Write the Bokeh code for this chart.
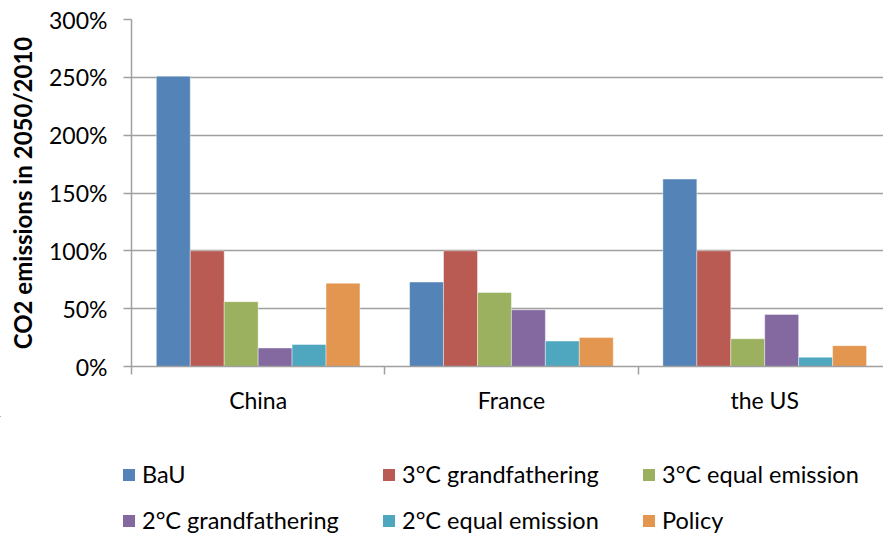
from bokeh.plotting import figure
from bokeh.layouts import column, row
from bokeh.models import Range1d, FixedTicker, PrintfTickFormatter, Legend, LegendItem, ColumnDataSource
from bokeh.embed import file_html
from bokeh.resources import INLINE

# ---- data (percent of 2010 emissions) ----
categories = ["China", "France", "the US"]
series_names = ["BaU", "3°C grandfathering", "3°C equal emission",
                "2°C grandfathering", "2°C equal emission", "Policy"]
bau = [251, 73, 162]
gf3 = [100, 100, 100]
eq3 = [56, 64, 24]
gf2 = [16, 49, 45]
eq2 = [19, 22, 8]
policy = [72, 25, 18]
colors = ["#5383B7", "#B95A53", "#9BB15F", "#8469A0", "#4EA7BF", "#E39650"]
y_ticks = [0, 50, 100, 150, 200, 250, 300]

series_values = [bau, gf3, eq3, gf2, eq2, policy]

FONT = "Lato"
FS = "23px"
GRID = "#a0a0a0"

p = figure(width=883, height=416, output_backend="svg", toolbar_location=None,
           x_range=Range1d(0, 2.969), y_range=Range1d(0, 300),
           min_border_left=131, min_border_right=0, min_border_top=19,
           min_border_bottom=49)
p.outline_line_color = None

bar_w = 0.134
sources = []
for j, (name, vals, col) in enumerate(zip(series_names, series_values, colors)):
    xs = [i + 0.5 + (j - 2.5) * bar_w for i in range(len(categories))]
    src = ColumnDataSource(dict(x=xs, top=vals))
    sources.append(src)
    p.vbar(x="x", top="top", bottom=0, width=bar_w, source=src,
           fill_color=col, line_color="white", line_alpha=0.5, line_width=0.8)

# grid
p.xgrid.visible = False
p.ygrid.ticker = FixedTicker(ticks=y_ticks)
p.ygrid.grid_line_color = GRID
p.ygrid.grid_line_width = 1.5

# y axis
ya = p.yaxis[0]
ya.ticker = FixedTicker(ticks=y_ticks, minor_ticks=[])
ya.formatter = PrintfTickFormatter(format="%d%%")
ya.axis_line_color = GRID
ya.axis_line_width = 1.5
ya.major_tick_line_color = GRID
ya.major_tick_line_width = 1.5
ya.major_tick_out = 8
ya.major_tick_in = 0
ya.minor_tick_line_color = None
ya.major_label_standoff = 16
ya.major_label_text_font = FONT
ya.major_label_text_font_size = FS
ya.major_label_text_color = "black"
ya.axis_label = "CO2 emissions in 2050/2010"
ya.axis_label_text_font = FONT
ya.axis_label_text_font_style = "bold"
ya.axis_label_text_font_size = "24px"
ya.axis_label_text_color = "black"
ya.axis_label_standoff = 9

# x axis
xa = p.xaxis[0]
xa.ticker = FixedTicker(ticks=[0.5, 1.5, 2.5], minor_ticks=[0, 1, 2, 3])
xa.major_label_overrides = {0.5: categories[0], 1.5: categories[1], 2.5: categories[2]}
xa.axis_line_color = GRID
xa.axis_line_width = 1.5
xa.major_tick_line_color = None
xa.major_tick_out = 8
xa.major_tick_in = 0
xa.minor_tick_line_color = GRID
xa.minor_tick_line_width = 1.5
xa.minor_tick_out = 8
xa.minor_tick_in = 0
xa.major_label_standoff = 11
xa.major_label_text_font = FONT
xa.major_label_text_font_size = FS
xa.major_label_text_color = "black"

# ---- legend figure (same series, kept outside its visible range) ----
lg = figure(width=883, height=118, output_backend="svg", toolbar_location=None,
            x_range=Range1d(4, 5), y_range=Range1d(-3, -2),
            x_axis_location=None, y_axis_location=None, min_border=0)
lg.outline_line_color = None
lg.xgrid.visible = False
lg.ygrid.visible = False
leg_renderers = []
for src, col in zip(sources, colors):
    r = lg.vbar(x="x", top="top", bottom=0, width=bar_w, source=src,
                fill_color=col, line_color=None)
    leg_renderers.append(r)

items = [LegendItem(label=n, renderers=[r]) for n, r in zip(series_names, leg_renderers)]
legend = Legend(items=items, location=(121, 0), orientation="horizontal", ncols=3,
                glyph_width=15, glyph_height=15, label_standoff=6,
                label_width=221, label_height=26, spacing=18, padding=0, margin=0,
                border_line_color=None, background_fill_alpha=0,
                label_text_font=FONT, label_text_font_size="23.5px",
                label_text_color="black")
lg.add_layout(legend)

layout = column(p, row(lg), spacing=0)
open("out.html", "w").write(file_html(layout, INLINE))
